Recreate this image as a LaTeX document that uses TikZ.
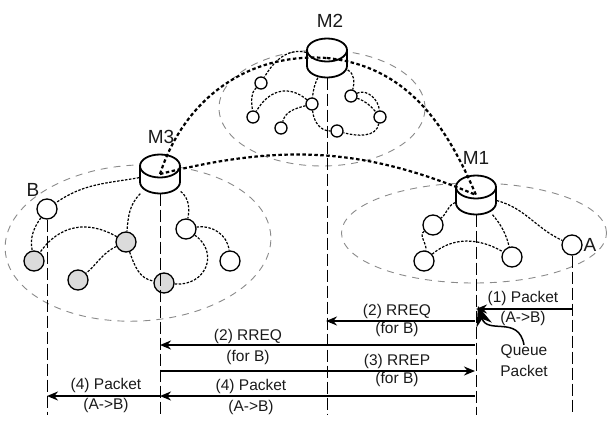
\documentclass[tikz,border=0pt]{standalone}
\usepackage{fontspec}
\setmainfont{Liberation Sans}
\usetikzlibrary{arrows.meta,shapes.geometric}
\definecolor{AreaGray}{HTML}{8A8A8A}
\definecolor{InkDark}{HTML}{1A1A1A}

\begin{document}
\begin{tikzpicture}[
    x=1pt,
    y=-1pt,
    area/.style={
        ellipse,
        draw=AreaGray,
        line width=0.9pt,
        dash pattern=on 7pt off 6pt,
        inner sep=0pt
    },
    router/.pic={
        \draw[draw=black, fill=white, line width=1.8pt]
            (-20,-8) -- (-20,8)
            arc[start angle=180, end angle=360, x radius=20pt, y radius=11.5pt]
            -- (20,-8)
            arc[start angle=0, end angle=180, x radius=20pt, y radius=11.5pt]
            -- cycle
            (0,-8) ellipse[x radius=20pt, y radius=11.5pt];
        \node[inner sep=0pt, minimum width=41pt, minimum height=39pt] (-box) at (0,0) {};
    },
    host/.style={
        circle,
        draw=black,
        fill=white,
        line width=1.3pt,
        inner sep=0pt,
        minimum size=20pt
    },
    hostgray/.style={
        host,
        fill=black!14
    },
    smallhost/.style={
        host,
        minimum size=12pt
    },
    nametext/.style={
        text=InkDark,
        font=\fontsize{19}{19}\selectfont,
        inner sep=0pt
    },
    msgtext/.style={
        text=InkDark,
        font=\fontsize{15.5}{15.5}\selectfont,
        inner sep=0pt
    },
    link/.style={
        draw=black,
        line width=1.2pt,
        dash pattern=on 2.5pt off 1.5pt
    },
    backbone/.style={
        draw=black,
        line width=2.2pt,
        dash pattern=on 3.5pt off 2.5pt
    },
    lifeline/.style={
        draw=black,
        line width=0.9pt,
        dash pattern=on 12pt off 4pt
    },
    msg/.style={
        draw=black,
        line width=1.8pt,
        -{Stealth[length=11pt,width=9pt]}
    }
]
\useasboundingbox (0,0) rectangle (608,421);

% areas
\node[area, minimum width=266pt, minimum height=156pt, rotate=3] (area3) at (138,243) {};
\node[area, minimum width=265pt, minimum height=100pt] (area1) at (474,233) {};
\node[area, minimum width=206pt, minimum height=116pt] (area2) at (322,108) {};

% routers
\pic (M3) at (160,174) {router};
\pic (M1) at (476,195) {router};
\pic (M2) at (327,58) {router};

% hosts of M3
\node[host] (b1) at (47,209) {};
\node[hostgray] (b2) at (34,261) {};
\node[hostgray] (b3) at (78,280) {};
\node[hostgray] (b4) at (126,242) {};
\node[hostgray] (b5) at (164,283) {};
\node[host] (b6) at (186,229) {};
\node[host] (b7) at (230,261) {};

% hosts of M1
\node[host] (a1) at (433,225) {};
\node[host] (a2) at (424,261) {};
\node[host] (a3) at (512,257) {};
\node[host] (a4) at (572,245) {};

% hosts of M2
\node[smallhost] (c1) at (261,83) {};
\node[smallhost] (c2) at (253,117) {};
\node[smallhost] (c3) at (281,128) {};
\node[smallhost] (c4) at (312,104) {};
\node[smallhost] (c5) at (337,131) {};
\node[smallhost] (c6) at (351,96) {};
\node[smallhost] (c7) at (380,117) {};

% names
\node[nametext] (nameM1) at (476,158) {M1};
\node[nametext] (nameM2) at (330,21) {M2};
\node[nametext] (nameM3) at (161,137) {M3};
\node[nametext] (nameB) at (33,190) {B};
\node[nametext] (nameA) at (590,245) {A};

% bottom ends
\coordinate (endB) at (47,415);
\coordinate (endM3) at (160,415);
\coordinate (endM2) at (327,415);
\coordinate (endM1) at (476,415);
\coordinate (endA) at (572,415);

\draw[lifeline] (b1) -- (endB);
\draw[lifeline] (M3-box) -- (endM3);
\draw[lifeline] (M2-box) -- (endM2);
\draw[lifeline] (M1-box) -- (endM1);
\draw[lifeline] (a4) -- (endA);

% links M3
\draw[link] (M3-box) to[out=190,in=35] (b1);
\draw[link] (b1) to[out=235,in=100] (b2);
\draw[link] (b4) to[out=150,in=55,looseness=1.1] (b2);
\draw[link] (b4) to[out=205,in=40] (b3);
\draw[link] (M3-box) to[out=225,in=85] (b4);
\draw[link] (b4) to[out=-70,in=170] (b5);
\draw[link] (M3-box) to[out=-40,in=80] (b6);
\draw[link] (b6) to[out=10,in=95] (b7);
\draw[link] (b6) to[out=-35,in=-5,looseness=1.5] (b5);

% links M1
\draw[link] (M1-box) to[out=200,in=40] (a1);
\draw[link] (a1) to[out=215,in=80] (a2);
\draw[link] (a2) to[out=40,in=150] (a3);
\draw[link] (M1-box) to[out=-50,in=105] (a3);
\draw[link] (M1-box) to[out=-15,in=155] (a4);

% links M2
\draw[link] (M2-box) to[out=165,in=60] (c1);
\draw[link] (c1) to[out=225,in=95] (c2);
\draw[link] (c4) to[out=140,in=60,looseness=1.2] (c2);
\draw[link] (c4) to[out=195,in=75] (c3);
\draw[link] (M2-box) to[out=-115,in=85] (c4);
\draw[link] (c4) to[out=-85,in=180] (c5);
\draw[link] (M2-box) to[out=-30,in=75] (c6);
\draw[link] (c6) to[out=25,in=95] (c7);
\draw[link] (c6) to[out=-20,in=130] (c7);
\draw[link] (c7) to[out=-100,in=-15] (c5);

% backbone
\draw[backbone] (M3-box.center) to[out=72,in=176] (M2-box.center);
\draw[backbone] (M2-box.center) to[out=-6,in=113] (M1-box.center);
\draw[backbone] (M3-box.center) to[out=14,in=157] (M1-box.center);

% message ends
\coordinate (m1a) at (572,309);
\coordinate (m1b) at (476,309);
\coordinate (m2a) at (475,321);
\coordinate (m2b) at (326,321);
\coordinate (m3a) at (475,345);
\coordinate (m3b) at (160,345);
\coordinate (m4a) at (160,371);
\coordinate (m4b) at (475,371);
\coordinate (m5a) at (475,396);
\coordinate (m5b) at (160,396);
\coordinate (m6a) at (160,396);
\coordinate (m6b) at (47,396);
\coordinate (qtip) at (478,306);

\draw[msg] (m1a) -- (m1b);
\draw[msg] (m2a) -- (m2b);
\draw[msg] (m3a) -- (m3b);
\draw[msg] (m4a) -- (m4b);
\draw[msg] (m5a) -- (m5b);
\draw[msg] (m6a) -- (m6b);

% message labels
\node[msgtext] (t1) at (523,298) {(1) Packet};
\node[msgtext] (u1) at (523,318) {(A->B)};
\node[msgtext] (t2) at (397,311) {(2) RREQ};
\node[msgtext] (u2) at (397,329) {(for B)};
\node[msgtext] (t3) at (248,336) {(2) RREQ};
\node[msgtext] (u3) at (248,357) {(for B)};
\node[msgtext] (t4) at (397,361) {(3) RREP};
\node[msgtext] (u4) at (397,379) {(for B)};
\node[msgtext] (t5) at (251,386) {(4) Packet};
\node[msgtext] (u5) at (251,407) {(A->B)};
\node[msgtext] (t6) at (106,385) {(4) Packet};
\node[msgtext] (u6) at (106,405) {(A->B)};
\node[msgtext] (queue) at (524,352) {Queue};
\node[msgtext] (packet) at (524,371) {Packet};

\draw[msg, line width=1.5pt, -{Stealth[length=20pt,width=16pt]}] (queue.north) to[out=100,in=-72,looseness=1.3] (qtip);

\end{tikzpicture}
\end{document}
